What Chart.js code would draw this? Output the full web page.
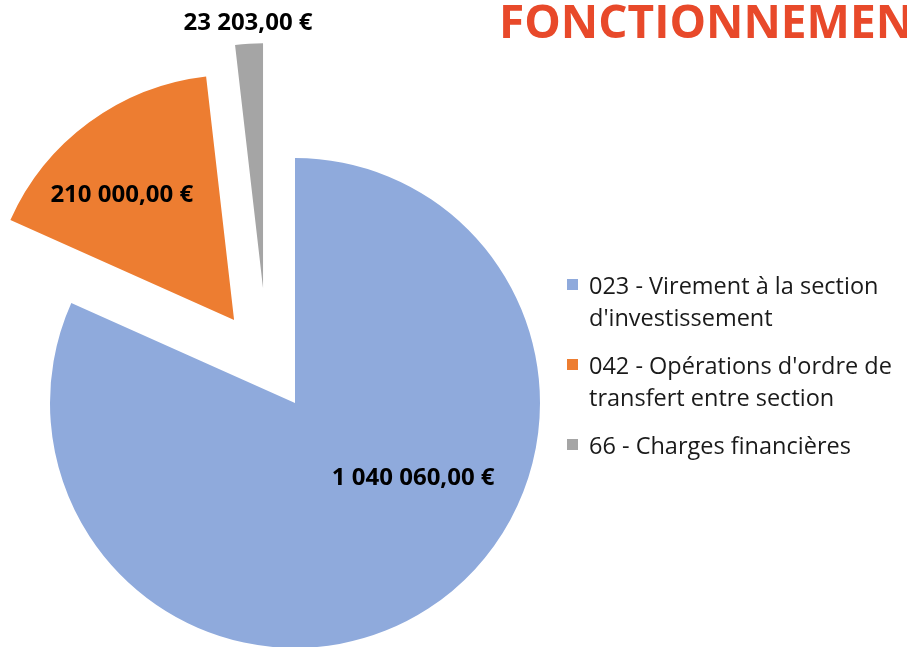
<!DOCTYPE html>
<html lang="fr">
<head>
<meta charset="utf-8">
<script src="https://cdn.jsdelivr.net/npm/chart.js@4.4.1/dist/chart.umd.min.js"></script>
<style>
  html, body { margin:0; padding:0; width:907px; height:647px; overflow:hidden; background:#fff; }
  #wrap { position:relative; width:907px; height:647px; }
  canvas { position:absolute; left:0; top:0; }
  #title { position:absolute; left:499px; top:-3px; font-family:"Open Sans", sans-serif; font-weight:700;
           font-size:46px; line-height:46px; color:#E8492A; white-space:nowrap; }
  #legend { position:absolute; left:567px; top:269px; font-family:"Open Sans", sans-serif; font-size:23.5px;
            color:#1a1a1a; white-space:nowrap; }
  .item { position:relative; padding-left:22px; line-height:32px; margin-bottom:16px; }
  .sw { position:absolute; left:0; top:10px; width:11px; height:11px; }
</style>
</head>
<body>
<div id="wrap">
  <canvas id="c" width="907" height="647"></canvas>
  <div id="title"></div>
  <div id="legend"></div>
</div>
<script>
const TITLE = "FONCTIONNEMENT";
const categories = [
  ["023 - Virement à la section", "d'investissement"],
  ["042 - Opérations d'ordre de", "transfert entre section"],
  ["66 - Charges financières"]
];
const values = [1040060, 210000, 23203];
const colors = ["#8FAADC", "#ED7D31", "#A5A5A5"];

// explosion distance (px) and direction tweak (deg) per slice
const EXPLODE = [0, 103, 119];
const EXPLODE_TURN = [0, 0, -12.3];
// label placement: fraction along slice angle, fraction of radius
const LABEL_POS = [[0.416, 0.571], [0.403, 0.685], [0.506, 1.083]];

function fmt(v) {
  const parts = v.toFixed(2).split(".");
  const intp = parts[0].replace(/\B(?=(\d{3})+(?!\d))/g, " ");
  return intp + "," + parts[1] + " €";
}

document.getElementById("title").textContent = TITLE;
const lg = document.getElementById("legend");
categories.forEach((lines, i) => {
  const d = document.createElement("div");
  d.className = "item";
  const sw = document.createElement("span");
  sw.className = "sw"; sw.style.background = colors[i];
  d.appendChild(sw);
  lines.forEach((t) => {
    const s = document.createElement("div");
    s.textContent = t;
    d.appendChild(s);
  });
  lg.appendChild(d);
});

function shift(arc, i) {
  const mid = (arc.startAngle + arc.endAngle) / 2 + EXPLODE_TURN[i] * Math.PI / 180;
  return [Math.cos(mid) * EXPLODE[i], Math.sin(mid) * EXPLODE[i]];
}

const explodePlugin = {
  id: "explode",
  beforeDatasetDraw(chart, args) {
    const ctx = chart.ctx;
    args.meta.data.forEach((arc, i) => {
      const [dx, dy] = shift(arc, i);
      ctx.save();
      ctx.translate(dx, dy);
      arc.draw(ctx);
      ctx.restore();
    });
    return false;
  },
  afterDatasetsDraw(chart) {
    const ctx = chart.ctx;
    const meta = chart.getDatasetMeta(0);
    ctx.save();
    ctx.font = "700 24px 'Open Sans'";
    ctx.fillStyle = "#000";
    ctx.textAlign = "center";
    ctx.textBaseline = "middle";
    meta.data.forEach((arc, i) => {
      const [dx, dy] = shift(arc, i);
      const [fa, fr] = LABEL_POS[i];
      const a = arc.startAngle + fa * (arc.endAngle - arc.startAngle);
      const r = fr * arc.outerRadius;
      ctx.fillText(fmt(values[i]), arc.x + dx + Math.cos(a) * r, arc.y + dy + Math.sin(a) * r);
    });
    ctx.restore();
  }
};

new Chart(document.getElementById("c"), {
  type: "pie",
  data: {
    labels: categories.map(l => l.join(" ")),
    datasets: [{
      data: values,
      backgroundColor: colors,
      borderWidth: 0,
      clip: false
    }]
  },
  options: {
    responsive: false,
    animation: false,
    radius: 245,
    layout: { padding: { left: 0, right: 317, top: 159, bottom: 0 } },
    events: [],
    plugins: { legend: { display: false }, tooltip: { enabled: false } }
  },
  plugins: [explodePlugin]
});
</script>
</body>
</html>
